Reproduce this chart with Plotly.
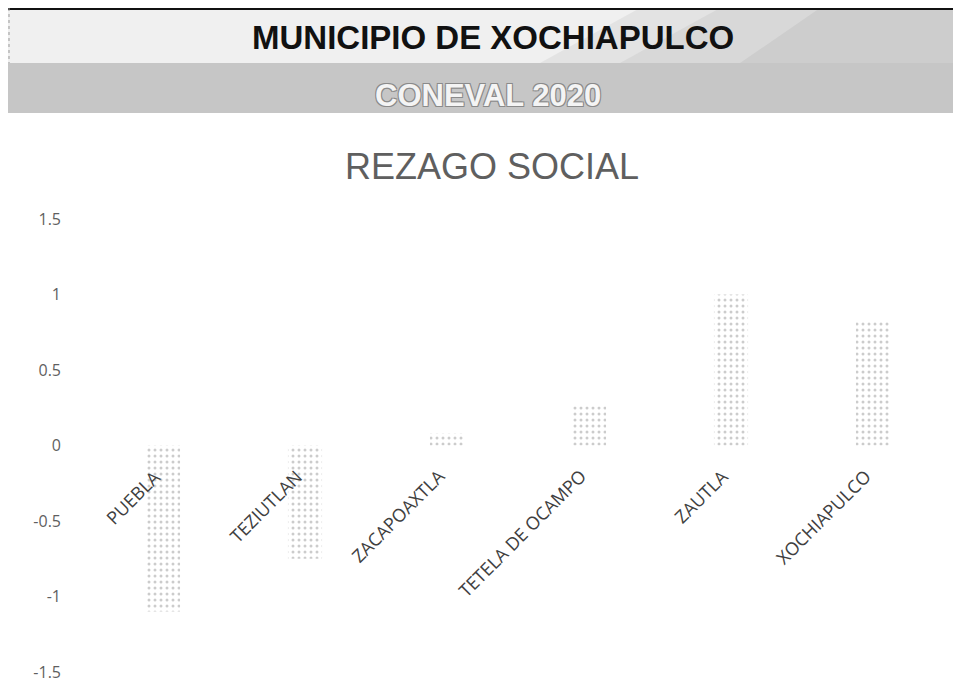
import plotly.graph_objects as go

# Datos (CONEVAL 2020, índice de rezago social)
municipios = ["PUEBLA", "TEZIUTLAN", "ZACAPOAXTLA", "TETELA DE OCAMPO", "ZAUTLA", "XOCHIAPULCO"]
rezago = [-1.1, -0.75, 0.08, 0.26, 1.0, 0.83]
y_ticks = [-1.5, -1, -0.5, 0, 0.5, 1, 1.5]
y_tick_text = ["-1.5", "-1", "-0.5", "0", "0.5", "1", "1.5"]

# la página deja 8px de margen arriba y a la izquierda
OX, OY = 8, 8
W, H = 961 - OX, 684 - OY
M_L, M_R, M_T, M_B = 92 - OX, 17, 219 - OY, 12
PW, PH = W - M_L - M_R, H - M_T - M_B


def px_x(x):
    """pixel de pantalla -> paper x"""
    return (x - OX - M_L) / PW


def px_y(y):
    """pixel de pantalla -> paper y"""
    return (H - M_B - (y - OY)) / PH


def rect(x0, y0, x1, y1, color):
    return dict(type="rect", xref="paper", yref="paper",
                x0=px_x(x0), x1=px_x(x1), y0=px_y(y1), y1=px_y(y0),
                fillcolor=color, line=dict(width=0), layer="below")


fig = go.Figure()

fig.add_trace(go.Bar(
    x=municipios,
    y=rezago,
    marker=dict(
        color="white",
        line=dict(width=0),
        pattern=dict(shape=".", fgcolor="#9a9a9a", bgcolor="white",
                     size=6, solidity=0.2),
    ),
    width=0.24,
    hoverinfo="x+y",
))

top = OY
shapes = [
    rect(OX, top, 961, 63, "#f0f0f0"),
    rect(OX, 63, 961, 113, "#c6c6c6"),
]
# banda superior se oscurece hacia la derecha
for x_top, x_bot, col in [(640, 540, "#e3e3e3"), (720, 620, "#d8d8d8"), (820, 740, "#cdcdcd")]:
    shapes.append(dict(
        type="path", xref="paper", yref="paper", layer="below",
        path=f"M {px_x(x_top)} {px_y(top)} L {px_x(961)} {px_y(top)} L {px_x(961)} {px_y(63)} L {px_x(x_bot)} {px_y(63)} Z",
        fillcolor=col, line=dict(width=0),
    ))
shapes.append(dict(type="line", xref="paper", yref="paper",
                   x0=px_x(OX), x1=px_x(961), y0=px_y(top + 1), y1=px_y(top + 1),
                   line=dict(color="#111111", width=2)))
shapes.append(dict(type="line", xref="paper", yref="paper",
                   x0=px_x(OX + 1), x1=px_x(OX + 1), y0=px_y(top), y1=px_y(63),
                   line=dict(color="#999999", width=1, dash="dot")))

annotations = [
    dict(text="MUNICIPIO DE XOCHIAPULCO", x=px_x(493), y=px_y(38),
         xref="paper", yref="paper", showarrow=False,
         xanchor="center", yanchor="middle",
         font=dict(family="Liberation Sans", size=33, color="#111111", weight="bold")),
    dict(text="CONEVAL 2020", x=px_x(488), y=px_y(96),
         xref="paper", yref="paper", showarrow=False,
         xanchor="center", yanchor="middle",
         font=dict(family="Liberation Sans", size=31, color="#f4f4f4", weight="bold",
                   shadow="1px 1px 0 #8a8a8a, -1px -1px 0 #8a8a8a, 1px -1px 0 #8a8a8a, -1px 1px 0 #8a8a8a")),
    dict(text="REZAGO SOCIAL", x=px_x(492), y=px_y(166),
         xref="paper", yref="paper", showarrow=False,
         xanchor="center", yanchor="middle",
         font=dict(family="Liberation Sans", size=36, color="#5f5f5f")),
]
# etiquetas de categoría junto al eje en y=0
for m in municipios:
    annotations.append(dict(
        text=m, x=m, y=0, xref="x", yref="y", showarrow=False,
        textangle=-45, xanchor="right", yanchor="top",
        xshift=5, yshift=-16,
        font=dict(family="Open Sans", size=18, color="#404040"),
    ))

fig.update_layout(
    width=W, height=H,
    margin=dict(l=M_L, r=M_R, t=M_T, b=M_B, autoexpand=False),
    paper_bgcolor="white",
    plot_bgcolor="white",
    showlegend=False,
    shapes=shapes,
    annotations=annotations,
    font=dict(family="Open Sans", color="#595959"),
    xaxis=dict(
        automargin=False, showticklabels=False,
        showgrid=False, zeroline=False, showline=False, ticks="",
    ),
    yaxis=dict(
        range=[-1.5, 1.5], automargin=False,
        tickvals=y_ticks, ticktext=y_tick_text,
        showgrid=False, zeroline=False, showline=False, ticks="",
        tickfont=dict(family="Open Sans", size=16, color="#5f5f5f"),
        ticklabelstandoff=30,
    ),
)

fig.write_html("out.html")
